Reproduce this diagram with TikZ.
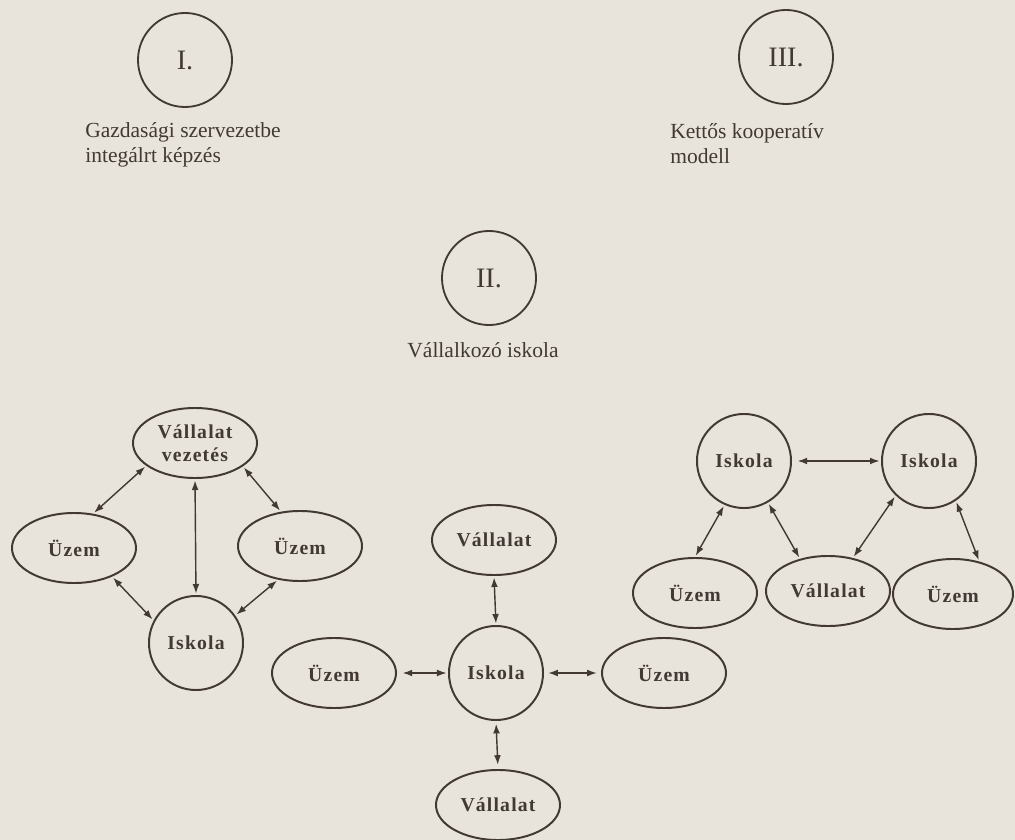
\documentclass[tikz,border=0pt]{standalone}
\usepackage{fontspec}
\setmainfont{Liberation Serif}
\newfontfamily\labelfont[LetterSpace=6]{Liberation Serif}
\usepackage{tikz}
\usetikzlibrary{arrows.meta,shapes.geometric,positioning}
\definecolor{ink}{RGB}{66,56,52}
\definecolor{paper}{RGB}{232,227,219}

\begin{document}
\begin{tikzpicture}[
      x=0.025cm, y=-0.025cm,
      font=\fontsize{15.3}{17.7}\selectfont,
      >={Latex[length=2.4mm,width=1.7mm]},
      every node/.style={text=ink},
      model/.style={circle, draw=ink, line width=1.3pt, minimum size=2.35cm, font=\fontsize{20}{24}\selectfont},
      caption/.style={align=left, inner sep=0pt},
      part/.style={ellipse, draw=ink, line width=1.4pt, minimum width=3.1cm, minimum height=1.75cm, inner sep=1pt, align=center, font=\labelfont\bfseries\fontsize{14}{16.3}\selectfont},
      school/.style={part, circle, minimum size=2.35cm},
      link/.style={<->, draw=ink, line width=1pt, shorten <=1pt, shorten >=1pt},
]

\useasboundingbox (0,0) rectangle (1015,840);
\fill[paper] (0,0) rectangle (1015,840);

% the three models
\node[model] (m1) at (185,60) {I.};
\node[model] (m2) at (489,278) {II.};
\node[model] (m3) at (786,57) {III.};
\node[caption, anchor=west] (m1cap) at (85,145) {Gazdasági szervezetbe\\integálrt képzés};
\node[caption, anchor=west] (m3cap) at (670,144) {Kettős kooperatív\\modell};
\node[caption] (m2cap) at (483,350) {Vállalkozó iskola};

% I.
\node[part] (lead) at (195,443) {Vállalat\\vezetés};
\node[part] (plant1) at (74,548) {Üzem};
\node[part] (plant2) at (300,546) {Üzem};
\node[school] (school1) at (196,643) {Iskola};

\draw[link] (lead.205) -- (plant1.61);
\draw[link] (lead.334) -- (plant2.119);
\draw[link] (lead.south) -- (school1.north);
\draw[link] (plant1.323) -- (school1.152);
\draw[link] (plant2.237) -- (school1.35);

% II.
\node[part] (firm1) at (494,540) {Vállalat};
\node[school] (school2) at (496,673) {Iskola};
\node[part] (plant3) at (334,673) {Üzem};
\node[part] (plant4) at (664,673) {Üzem};
\node[part] (firm2) at (498,805) {Vállalat};

\draw[link] (firm1.south) -- (school2.north);
\draw[link, shorten <=4pt] (plant3.east) -- (school2.west);
\draw[link, shorten <=3pt, shorten >=3pt] (school2.east) -- (plant4.west);
\draw[link, shorten <=2pt, shorten >=3pt] (school2.south) -- (firm2.north);

% III.
\node[school] (school3) at (744,461) {Iskola};
\node[school] (school4) at (929,461) {Iskola};
\node[part] (plant5) at (695,593) {Üzem};
\node[part] (firm3) at (828,591) {Vállalat};
\node[part, minimum width=3cm] (plant6) at (953,594) {Üzem};

\draw[link, shorten <=4pt] (school3.east) -- (school4.west);
\draw[link] (school3.246) -- (plant5.90);
\draw[link] (school3.300) -- (firm3.131);
\draw[link] (school4.226) -- (firm3.53);
\draw[link] (school4.304) -- (plant6.51);

\end{tikzpicture}
\end{document}
